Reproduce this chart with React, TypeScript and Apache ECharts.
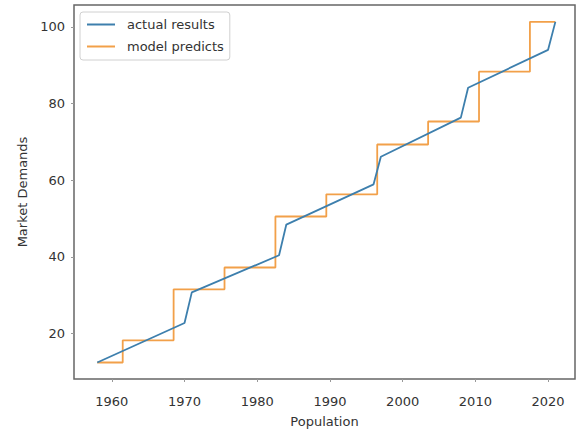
import React, { useEffect, useRef } from "react";
import * as echarts from "echarts";

// Actual results: vertices of the blue polyline (year, value)
const actualYears = [1958, 1970, 1971, 1983, 1984, 1996, 1997, 2008, 2009, 2020, 2021];
const actualValues = [12.4, 22.7, 30.7, 40.4, 48.4, 58.9, 66.1, 76.3, 84.1, 94.0, 101.3];

// Model predicts: step function, start year of each level and its value
const predictStarts = [1958, 1961.5, 1968.5, 1975.5, 1982.5, 1989.5, 1996.5, 2003.5, 2010.5, 2017.5];
const predictLevels = [12.4, 18.2, 31.5, 37.2, 50.5, 56.3, 69.3, 75.3, 88.3, 101.3];
const predictEndYear = 2021;

const seriesNames = ["actual results", "model predicts"];
const xAxisTitle = "Population";
const yAxisTitle = "Market Demands";

export default function App() {
  const ref = useRef<HTMLDivElement>(null);

  useEffect(() => {
    if (!ref.current) return;
    const chart = echarts.init(ref.current, null, { renderer: "svg" });

    const actualData = actualYears.map((x, i) => [x, actualValues[i]]);
    const predictData = predictStarts.map((x, i) => [x, predictLevels[i]]);
    predictData.push([predictEndYear, predictLevels[predictLevels.length - 1]]);

    const font = "DejaVu Sans";
    const textColor = "#333";

    chart.setOption({
      animation: false,
      backgroundColor: "#fff",
      textStyle: { fontFamily: font },
      grid: {
        left: 74,
        right: 2,
        top: 5,
        bottom: 53,
        show: true,
        borderColor: "#666",
        borderWidth: 1.5,
        backgroundColor: "transparent",
      },
      legend: {
        show: true,
        orient: "vertical",
        left: 80,
        top: 12,
        padding: [5, 6, 6, 7],
        itemWidth: 28,
        itemHeight: 2,
        itemGap: 7,
        icon: "rect",
        borderColor: "#d0d0d0",
        borderWidth: 1,
        borderRadius: 3,
        backgroundColor: "rgba(255,255,255,0.85)",
        textStyle: {
          fontFamily: font,
          fontSize: 13,
          color: textColor,
          lineHeight: 15,
          padding: [0, 0, 0, 7],
        },
        data: seriesNames,
      },
      xAxis: {
        type: "value",
        min: 1954.8,
        max: 2023.7,
        name: xAxisTitle,
        nameLocation: "middle",
        nameGap: 36,
        nameTextStyle: { fontFamily: font, fontSize: 13, color: textColor },
        axisLine: { show: false },
        axisTick: { show: true, length: 3, lineStyle: { color: "#999" } },
        axisLabel: {
          fontFamily: font,
          fontSize: 13,
          color: textColor,
          margin: 16,
          showMinLabel: false,
          showMaxLabel: false,
          formatter: (v: number) => String(Math.round(v)),
        },
        splitLine: { show: false },
      },
      yAxis: {
        type: "value",
        min: 8.1,
        max: 105.7,
        name: yAxisTitle,
        nameLocation: "middle",
        nameGap: 42,
        nameTextStyle: { fontFamily: font, fontSize: 13, color: textColor },
        axisLine: { show: false },
        axisTick: { show: true, length: 3, lineStyle: { color: "#999" } },
        axisLabel: {
          fontFamily: font,
          fontSize: 13,
          color: textColor,
          margin: 9,
          showMinLabel: false,
          showMaxLabel: false,
        },
        splitLine: { show: false },
      },
      series: [
        {
          name: seriesNames[0],
          type: "line",
          data: actualData,
          showSymbol: false,
          symbol: "none",
          color: "#3d7fad",
          lineStyle: { width: 1.8, color: "#3d7fad" },
          z: 3,
        },
        {
          name: seriesNames[1],
          type: "line",
          step: "end",
          data: predictData,
          showSymbol: false,
          symbol: "none",
          color: "#f2a049",
          lineStyle: { width: 1.8, color: "#f2a049" },
          z: 2,
        },
      ],
    });

    return () => chart.dispose();
  }, []);

  return (
    <div
      ref={ref}
      style={{ position: "fixed", left: 0, top: 0, width: 577, height: 433 }}
    />
  );
}
